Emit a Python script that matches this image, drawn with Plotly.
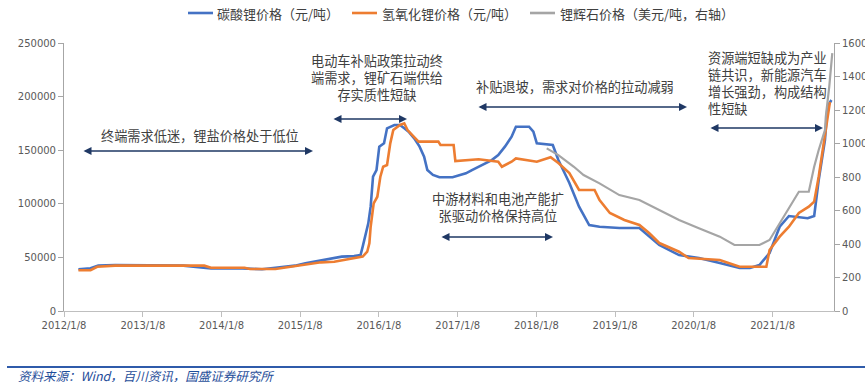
import plotly.graph_objects as go

# ---------------- data ----------------
li2co3_dates = ["2012-03-15", "2012-05-10", "2012-06-15", "2012-09-01", "2013-07-15", "2013-09-01",
                "2013-10-20", "2013-11-20", "2014-04-15", "2014-06-01", "2014-07-15", "2014-09-15",
                "2014-11-01", "2014-12-15", "2015-02-01", "2015-03-15", "2015-04-15", "2015-05-20",
                "2015-06-15", "2015-07-20", "2015-09-15", "2015-10-15", "2015-10-25", "2015-11-05",
                "2015-11-20", "2015-12-01", "2015-12-12", "2015-12-28", "2016-01-10", "2016-02-01",
                "2016-02-15", "2016-03-20", "2016-04-15", "2016-05-05", "2016-05-25", "2016-06-20",
                "2016-07-15", "2016-08-05", "2016-08-20", "2016-09-15", "2016-10-15", "2016-12-15",
                "2017-01-15", "2017-02-15", "2017-03-15", "2017-04-15", "2017-05-15", "2017-06-15",
                "2017-07-15", "2017-08-15", "2017-09-15", "2017-10-05", "2017-12-05", "2017-12-25",
                "2018-01-10", "2018-03-25", "2018-04-20", "2018-06-10", "2018-07-25", "2018-09-10",
                "2018-10-28", "2019-01-28", "2019-05-01", "2019-06-15", "2019-08-01", "2019-11-01",
                "2020-02-01", "2020-05-08", "2020-08-08", "2020-09-25", "2020-11-08", "2020-12-25",
                "2021-02-10", "2021-03-25", "2021-05-15", "2021-06-20", "2021-07-20", "2021-08-10",
                "2021-09-08", "2021-09-20", "2021-10-08"]
li2co3_price = [38900, 39800, 42300, 42900, 42300, 41200,
                40400, 39800, 39800, 39000, 38900, 40400,
                41500, 42300, 44500, 46000, 46600, 48200,
                49200, 50700, 51200, 52200, 60000, 69300,
                81800, 97300, 125300, 131500, 153300, 156400,
                170400, 173500, 173500, 170400, 167300, 161100,
                153300, 143900, 131500, 126900, 124700, 124700,
                126900, 128400, 131500, 134600, 137800, 140800,
                145500, 153300, 162600, 171900, 171900, 167300,
                156400, 154800, 140800, 119400, 97300, 80200,
                78600, 77400, 77400, 69300, 61600, 52200,
                49400, 44800, 40100, 40100, 42900, 54100,
                78600, 88600, 87500, 86500, 88600, 122200,
                159500, 190600, 196800]

lioh_dates = ["2012-03-15", "2012-05-10", "2012-06-10", "2012-09-01", "2013-10-20", "2013-11-20",
              "2014-04-25", "2014-05-20", "2014-09-15", "2014-12-15", "2015-02-01", "2015-04-15",
              "2015-06-15", "2015-08-01", "2015-09-25", "2015-10-25", "2015-11-15", "2015-11-25",
              "2015-12-01", "2015-12-15", "2016-01-01", "2016-01-15", "2016-01-28", "2016-02-15",
              "2016-03-01", "2016-03-15", "2016-04-15", "2016-05-05", "2016-05-20", "2016-06-10",
              "2016-07-10", "2016-10-10", "2016-10-20", "2016-12-20", "2016-12-28", "2017-04-15",
              "2017-07-15", "2017-08-01", "2017-09-15", "2017-10-05", "2018-01-10", "2018-03-15",
              "2018-04-20", "2018-06-10", "2018-07-25", "2018-10-05", "2018-10-28", "2018-12-15",
              "2019-02-20", "2019-05-01", "2019-06-15", "2019-08-01", "2019-11-01", "2019-12-15",
              "2020-05-08", "2020-08-08", "2020-12-10", "2020-12-25", "2021-02-10", "2021-03-25",
              "2021-05-10", "2021-06-25", "2021-07-20", "2021-08-10", "2021-09-01", "2021-10-01"]
lioh_price = [38000, 38000, 41300, 42300, 42300, 40400,
              40400, 39200, 39200, 41700, 43500, 45400,
              46000, 47600, 49200, 50700, 55300, 63200,
              78600, 100400, 106600, 125300, 134600, 136200,
              156400, 168800, 173500, 175100, 168800, 164200,
              158000, 158000, 154800, 154800, 139900, 141500,
              139300, 134600, 139300, 142400, 139300, 143400,
              138000, 128700, 112900, 112900, 103500, 91400,
              84900, 80200, 72800, 63400, 55300, 49400,
              47600, 41300, 41300, 56900, 69300, 78600,
              91400, 97300, 102000, 125300, 156700, 195000]

spod_dates = ["2018-02-25", "2018-04-20", "2018-07-01", "2018-08-15", "2018-10-28", "2019-01-28",
              "2019-05-01", "2019-08-01", "2019-11-01", "2020-02-01", "2020-05-08", "2020-07-15",
              "2020-11-08", "2020-12-25", "2021-02-10", "2021-03-25", "2021-05-10", "2021-06-25",
              "2021-07-20", "2021-08-10", "2021-09-08", "2021-09-12", "2021-09-28", "2021-10-12"]
spod_price = [971, 931, 861, 812, 762, 692,
              663, 603, 543, 494, 444, 394,
              394, 424, 524, 613, 712, 712,
              861, 961, 1080, 1160, 1339, 1540]

tick_dates = ["2012-01-08", "2013-01-08", "2014-01-08", "2015-01-08", "2016-01-08",
              "2017-01-08", "2018-01-08", "2019-01-08", "2020-01-08", "2021-01-08"]
tick_text = ["2012/1/8", "2013/1/8", "2014/1/8", "2015/1/8", "2016/1/8",
             "2017/1/8", "2018/1/8", "2019/1/8", "2020/1/8", "2021/1/8"]

series_names = ["碳酸锂价格（元/吨）", "氢氧化锂价格（元/吨）", "锂辉石价格（美元/吨，右轴）"]
series_colors = ["#4472C4", "#ED7D31", "#A5A5A5"]

# ---------------- figure ----------------
W, H = 865, 382
L, R, T, B = 64, 31, 43, 71
pw, ph = W - L - R, H - T - B

def px(x):
    return (x - L) / pw

def py(y):
    return (H - B - y) / ph

CJK = "Noto Sans CJK SC"
fig = go.Figure()
fig.add_trace(go.Scatter(x=li2co3_dates, y=li2co3_price, name=series_names[0], mode="lines",
                         line=dict(color=series_colors[0], width=2.6)))
fig.add_trace(go.Scatter(x=lioh_dates, y=lioh_price, name=series_names[1], mode="lines",
                         line=dict(color=series_colors[1], width=2.6)))
fig.add_trace(go.Scatter(x=spod_dates, y=spod_price, name=series_names[2], mode="lines",
                         line=dict(color=series_colors[2], width=2.2), yaxis="y2"))

axis_font = dict(family="DejaVu Sans", size=10, color="#595959")
fig.update_layout(
    width=W, height=H,
    margin=dict(l=L, r=R, t=T, b=B, autoexpand=False),
    paper_bgcolor="white", plot_bgcolor="white",
    showlegend=False,
    xaxis=dict(type="date", range=["2012-01-08", "2021-10-20"], tickvals=tick_dates, ticktext=tick_text,
               showgrid=False, zeroline=False, showline=True, linecolor="#BFBFBF", linewidth=1,
               ticks="outside", ticklen=5, tickcolor="#BFBFBF", tickfont=axis_font),
    yaxis=dict(range=[0, 250000], dtick=50000, showgrid=False, zeroline=False, showline=True,
               linecolor="#A6A6A6", linewidth=1, ticks="outside", ticklen=5, tickcolor="#A6A6A6",
               tickfont=axis_font, tickformat="d"),
    yaxis2=dict(range=[0, 1600], dtick=200, overlaying="y", side="right", showgrid=False,
                zeroline=False, showline=True, linecolor="#A6A6A6", linewidth=1, ticks="outside",
                ticklen=5, tickcolor="#A6A6A6", tickfont=axis_font, tickformat="d"),
)

# manual legend (short line samples like the reference)
leg_font = dict(family=CJK, size=13, color="#404040")
leg_pos = [(188, 215), (352, 380), (530, 558)]
for (lx, tx), name, col in zip(leg_pos, series_names, series_colors):
    fig.add_shape(type="line", xref="paper", yref="paper", x0=px(lx), x1=px(lx + 25),
                  y0=py(13), y1=py(13), line=dict(color=col, width=2.6))
    fig.add_annotation(text=name, x=px(tx), y=py(13), xref="paper", yref="paper", showarrow=False,
                       xanchor="left", yanchor="middle", font=leg_font)

txt_font = dict(family=CJK, size=13.2, color="#404040")
arrow_col = "#1F3864"
texts = [
    ("终端需求低迷，锂盐价格处于低位", 200, 135),
    ("电动车补贴政策拉动终<br>端需求，锂矿石端供给<br>存实质性短缺", 377, 77),
    ("补贴退坡，需求对价格的拉动减弱", 575, 86),
    ("中游材料和电池产能扩<br>张驱动价格保持高位", 498, 207),
]
for t, x, y in texts:
    fig.add_annotation(text=t, x=px(x), y=py(y), xref="paper", yref="paper", showarrow=False,
                       xanchor="center", yanchor="middle", align="center", font=txt_font)
fig.add_annotation(text="资源端短缺成为产业<br>链共识，新能源汽车<br>增长强劲，构成结构<br>性短缺",
                   x=px(706), y=py(83), xref="paper", yref="paper", showarrow=False,
                   xanchor="left", yanchor="middle", align="left", font=txt_font)

arrows = [(82, 313, 151), (332, 407, 119), (477, 687, 107), (440, 553, 237), (709, 823, 128)]
for x0, x1, y in arrows:
    fig.add_annotation(text="", x=px(x1), y=py(y), ax=px(x0), ay=py(y),
                       xref="x domain", yref="y domain", axref="x domain", ayref="y domain",
                       showarrow=True, arrowhead=2, startarrowhead=2,
                       arrowside="end+start", arrowsize=1, startarrowsize=1, arrowwidth=1.6,
                       arrowcolor=arrow_col, standoff=0, startstandoff=0)

# footer
fig.add_shape(type="line", xref="paper", yref="paper", x0=px(7), x1=px(870), y0=py(367), y1=py(367),
              line=dict(color="#2F5BAA", width=2))
fig.add_annotation(text="资料来源：Wind，百川资讯，国盛证券研究所", x=px(16), y=py(375),
                   xref="paper", yref="paper", showarrow=False, xanchor="left", yanchor="middle",
                   font=dict(family=CJK, size=12.5, color="#1F4E9A", style="italic"))

fig.write_html("out.html", config={"displayModeBar": False},
               post_script="document.body.style.margin='0';document.body.style.overflow='hidden';"
                           "document.documentElement.style.overflow='hidden';")
